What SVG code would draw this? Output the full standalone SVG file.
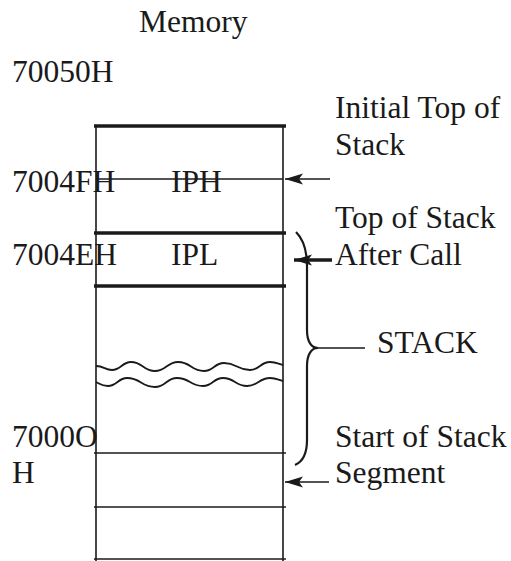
<svg xmlns="http://www.w3.org/2000/svg" width="511" height="561" viewBox="0 0 511 561">
<defs>
<style>
text{font-family:"Liberation Serif","DejaVu Serif","Times New Roman",serif;font-size:31.5px;fill:#1a1a1a}
.thin{stroke:#1a1a1a;stroke-width:1.6;fill:none}
.thick{stroke:#1a1a1a;stroke-width:3.5;fill:none}
.wave{stroke:#1a1a1a;stroke-width:1.8;fill:none}
</style>
<marker id="ah" viewBox="0 0 18 12" refX="18" refY="6" markerWidth="18" markerHeight="12" markerUnits="userSpaceOnUse" orient="auto">
<path d="M18,6 L0,0.5 L4,6 L0,11.5 Z" fill="#1a1a1a"/>
</marker>
</defs>
<rect width="511" height="561" fill="#ffffff"/>
<g id="labels" font-family="Liberation Serif, DejaVu Serif, serif">
<text x="139" y="32">Memory</text>
<text x="12" y="82">70050H</text>
<text x="12" y="192">7004FH</text>
<text x="12" y="265">7004EH</text>
<text x="12" y="447">7000O</text>
<text x="12" y="483">H</text>
</g>
<g id="memory">
<line class="thin" x1="96" y1="126" x2="96" y2="561"/>
<line class="thin" x1="283" y1="126" x2="283" y2="561"/>
<line class="thick" x1="94" y1="126" x2="286" y2="126"/>
<line class="thin" x1="96" y1="179" x2="283" y2="179"/>
<line class="thick" x1="94" y1="233" x2="286" y2="233"/>
<line class="thick" x1="94" y1="286" x2="286" y2="286"/>
<line class="thin" x1="94" y1="453" x2="286" y2="453"/>
<line class="thin" x1="94" y1="507" x2="286" y2="507"/>
<line class="thin" x1="94" y1="559" x2="286" y2="559"/>
<path class="wave" d="M96,366 C104,366 105,370 112,370 C121,370 122,362 131,362 C143,362 143,371 155,371 C166,371 167,362 178,362 C191,362 191,371 204,371 C214,371 214,363 224,363 C237,363 237,370 250,370 C260,370 260,362 270,362 C277,362 278,364 283,365"/>
<path class="wave" d="M96,382 C100,384 102,386 108,386 C117,386 118,378 127,378 C141,378 141,387 155,387 C166,387 166,378 177,378 C190,378 190,386 203,386 C213,386 213,378 223,378 C235,378 235,386 247,386 C258,386 259,378 270,378 C277,378 278,380 283,381"/>
</g>
<g id="IPH" font-family="Liberation Serif, DejaVu Serif, serif"><text x="171" y="192">IPH</text></g>
<g id="IPL" font-family="Liberation Serif, DejaVu Serif, serif"><text x="171" y="265">IPL</text></g>
<g id="initial-top" font-family="Liberation Serif, DejaVu Serif, serif"><text x="335" y="118">Initial Top of</text><text x="335" y="155">Stack</text></g>
<g id="top-after-call" font-family="Liberation Serif, DejaVu Serif, serif"><text x="335" y="228">Top of Stack</text><text x="335" y="265">After Call</text></g>
<g id="stack-label" font-family="Liberation Serif, DejaVu Serif, serif"><text x="377" y="353">STACK</text></g>
<g id="start-segment" font-family="Liberation Serif, DejaVu Serif, serif"><text x="335" y="447">Start of Stack</text><text x="335" y="483">Segment</text></g>
<g id="connectors">
<line class="thin" x1="330" y1="179" x2="285" y2="179" marker-end="url(#ah)"/>
<line stroke="#1a1a1a" stroke-width="3.5" x1="332" y1="260" x2="294" y2="260" marker-end="url(#ah)"/>
<line class="thin" x1="329" y1="482" x2="285" y2="482" marker-end="url(#ah)"/>
<path d="M296,232 C304,240 307,250 307,266 L307,330 C307,341 311,348 318,348 C311,348 307,355 307,366 L307,440 C307,455 302,462 295,465" stroke="#1a1a1a" stroke-width="2.2" fill="none"/>
<line class="thin" x1="318" y1="348" x2="365" y2="348"/>
</g>
</svg>
